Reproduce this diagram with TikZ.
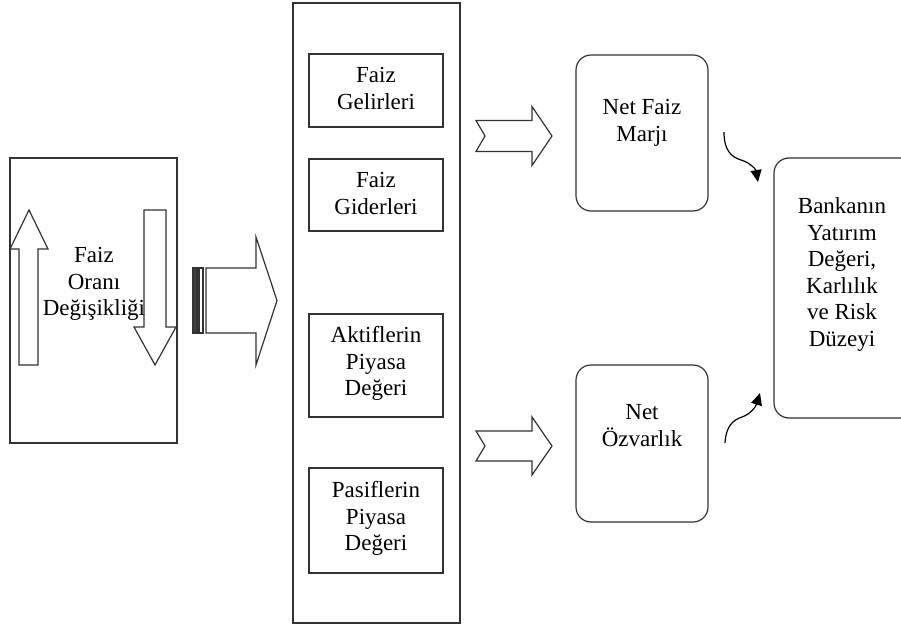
\documentclass[tikz,border=0pt]{standalone}
\usepackage{fontspec}
\setmainfont{Liberation Serif}
\usetikzlibrary{arrows.meta}
\begin{document}
\begin{tikzpicture}[x=1pt,y=-1pt,
  box/.style={draw=black!80, line width=1.2pt, rectangle, inner sep=0pt, outer sep=0pt},
  rbox/.style={box, rounded corners=15pt},
  txt/.style={font=\fontsize{23}{26.5}\selectfont, align=center, anchor=north, inner sep=0pt},
  blk/.style={draw=black!80, line width=1.2pt, fill=white, line join=miter},
  curv/.style={draw=black, line width=1.2pt, -{Triangle[length=12pt,width=11pt]}}
]
\useasboundingbox (0,0) rectangle (901,628);

% boxes
\node[box, minimum width=167pt, minimum height=285pt] (left) at (93.5,300.5) {};
\node[box, minimum width=167pt, minimum height=620pt] (mid) at (376.5,313) {};
\node[box, minimum width=134pt, minimum height=73pt] (g1) at (376,90.5) {};
\node[box, minimum width=134pt, minimum height=72pt] (g2) at (376,195) {};
\node[box, minimum width=134pt, minimum height=103pt] (g3) at (376,365.5) {};
\node[box, minimum width=134pt, minimum height=105pt] (g4) at (376,520.5) {};
\node[rbox, minimum width=132pt, minimum height=156pt] (nfm) at (642,133) {};
\node[rbox, minimum width=132pt, minimum height=157pt] (noz) at (642,443.5) {};
\draw[draw=black!80, line width=1.2pt, rounded corners=15pt] (901,158) -- (774,158) -- (774,418) -- (901,418);

% arrows in left box
\draw[blk] (19,365) -- (19,249) -- (10,249) -- (29,210) -- (48,249) -- (38,249) -- (38,365) -- cycle;
\draw[blk] (144,210) -- (166,210) -- (166,327) -- (176,327) -- (155,365) -- (134,327) -- (144,327) -- cycle;

% striped arrow
\draw[blk, fill=black!75] (193,268) rectangle (197,333);
\draw[blk] (199,268) rectangle (203,333);
\draw[blk] (206,268) -- (256,268) -- (256,237) -- (277,300.5) -- (256,365) -- (256,333) -- (206,333) -- cycle;

% notched arrows
\draw[blk] (476,120.5) -- (532,120.5) -- (532,106.5) -- (552,136) -- (532,165.5) -- (532,151.5) -- (476,151.5) -- (485,136) -- cycle;
\draw[blk] (476,431) -- (532,431) -- (532,417) -- (552,446) -- (532,475) -- (532,461) -- (476,461) -- (485,446) -- cycle;

% texts
\node[txt] (tfo) at (94,247.5) {Faiz\\Oranı\\Değişikliği};
\node[txt] (tg1) at (376,67.5) {Faiz\\Gelirleri};
\node[txt] (tg2) at (376,172.5) {Faiz\\Giderleri};
\node[txt] (tg3) at (376,326.5) {Aktiflerin\\Piyasa\\Değeri};
\node[txt] (tg4) at (376,481.5) {Pasiflerin\\Piyasa\\Değeri};
\node[txt] (tnfm) at (642,99.5) {Net Faiz\\Marjı};
\node[txt] (tnoz) at (642,404.5) {Net\\Özvarlık};
\node[txt] (bank) at (842,197.5) {Bankanın\\Yatırım\\Değeri,\\Karlılık\\ve Risk\\Düzeyi};

% curved arrows
\coordinate (c1s) at (724,132);
\coordinate (c1e) at (758,182);
\coordinate (c2s) at (725,443);
\coordinate (c2e) at (760,393);
\draw[curv] (c1s) .. controls (724,150) and (731,157) .. (741,160) .. controls (751,163) and (756,170) .. (c1e);
\draw[curv] (c2s) .. controls (726,426) and (733,420) .. (742,417) .. controls (751,414) and (756,406) .. (c2e);
\end{tikzpicture}
\end{document}
